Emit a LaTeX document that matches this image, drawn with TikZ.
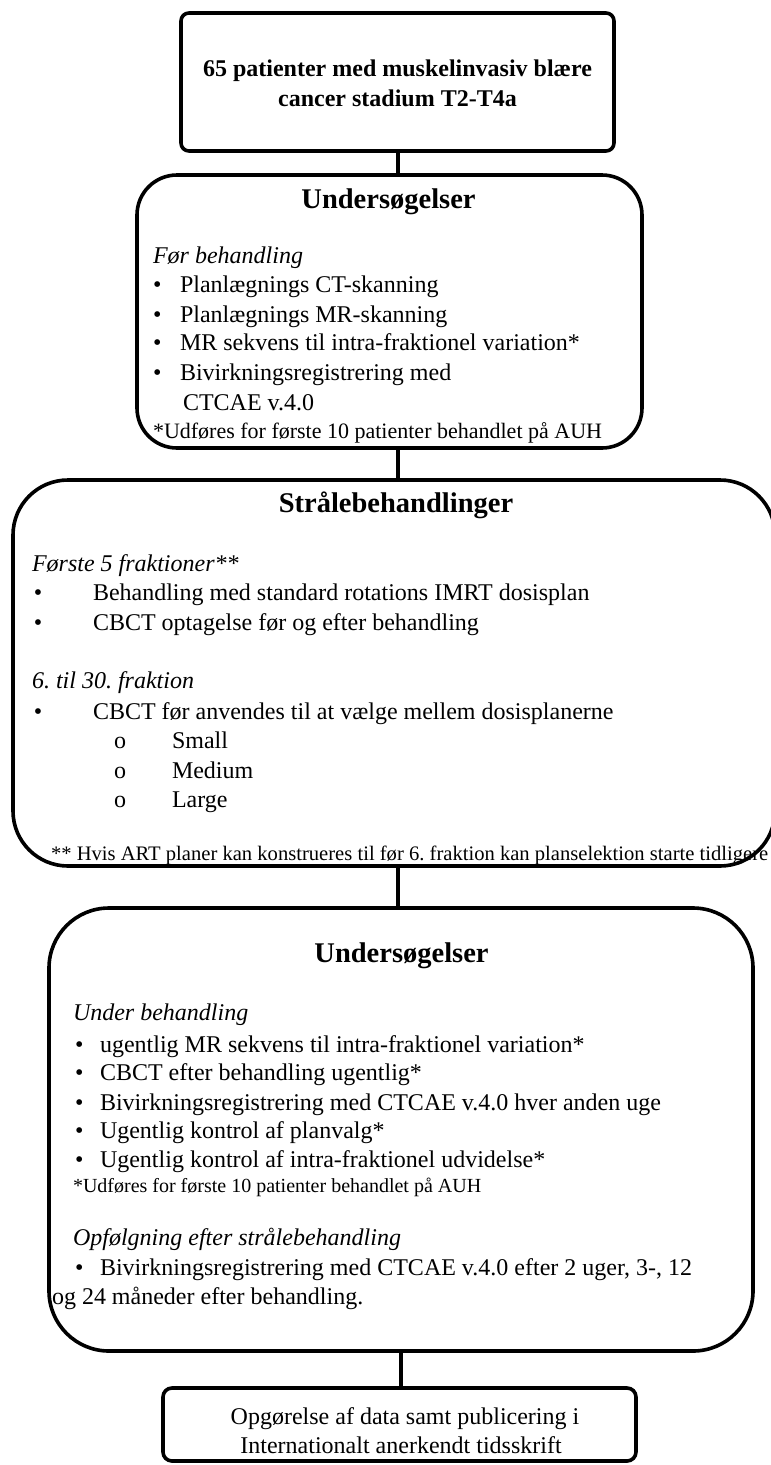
\documentclass[tikz,border=0pt]{standalone}
\usepackage{fontspec}
\setmainfont{Liberation Serif}[
  UprightFont={Liberation Serif},
  BoldFont={Liberation Serif Bold},
  ItalicFont={Liberation Serif Italic},
  BoldItalicFont={Liberation Serif Bold Italic}]
\frenchspacing
\begin{document}
\frenchspacing
\begin{tikzpicture}[x=1pt,y=-1pt,
  box/.style={draw=black, line width=3.6pt, inner sep=0pt, outer sep=0pt},
  conn/.style={draw=black, line width=4pt},
  tx/.style={anchor=base west, inner sep=0pt, outer sep=0pt, font=\fontsize{24}{29}\selectfont},
  txc/.style={anchor=base, inner sep=0pt, outer sep=0pt, font=\fontsize{24}{29}\selectfont},
  it/.style={tx, font=\fontsize{24}{29}\selectfont\itshape},
  hd/.style={anchor=base, inner sep=0pt, outer sep=0pt, font=\fontsize{28.5}{34}\selectfont\bfseries},
  bd/.style={anchor=base, inner sep=0pt, outer sep=0pt, font=\fontsize{24}{29}\selectfont\bfseries},
  fn/.style={anchor=base west, inner sep=0pt, outer sep=0pt, font=\fontsize{#1}{24}\selectfont}
]
\useasboundingbox (0,0) rectangle (771,1465);
\clip (0,0) rectangle (771,1465);

% boxes
\node[box, rounded corners=8pt, minimum width=433pt, minimum height=138pt] (b1) at (397.5,82) {};
\node[box, rounded corners=40pt, minimum width=505pt, minimum height=273pt] (b2) at (389.5,311.5) {};
\node[box, rounded corners=55pt, minimum width=762pt, minimum height=386pt] (b3) at (394,673) {};
\node[box, rounded corners=60pt, minimum width=704pt, minimum height=443pt] (b4) at (401,1129.5) {};
\node[box, rounded corners=9pt, minimum width=473pt, minimum height=73pt] (b5) at (399.5,1424.5) {};

% connectors
\draw[conn] (b1.south) -- (b1.south |- b2.north);
\draw[conn] (b2.south -| b1.south) -- (b3.north -| b1.south);
\draw[conn] (b3.south -| b1.south) -- (b4.north -| b1.south);
\draw[conn] (b4.south) -- (b4.south |- b5.north);

% box 1
\node[bd] (t1a) at (397.5,76) {65 patienter med muskelinvasiv blære};
\node[bd] (t1b) at (397.5,106) {cancer stadium T2-T4a};

% box 2
\node[hd] (h2) at (388.5,208) {Undersøgelser};
\node[it] (s2) at (153,263) {Før behandling};
\node[tx] (p2a) at (153,292) {•};
\node[tx] (q2a) at (180,292) {Planlægnings CT-skanning};
\node[tx] (p2b) at (153,322) {•};
\node[tx] (q2b) at (180,322) {Planlægnings MR-skanning};
\node[tx] (p2c) at (153,350) {•};
\node[tx] (q2c) at (180,350) {MR sekvens til intra-fraktionel variation*};
\node[tx] (p2d) at (153,380) {•};
\node[tx] (q2d) at (180,380) {Bivirkningsregistrering med};
\node[tx] (q2e) at (183,410) {CTCAE v.4.0};
\node[fn=22] (f2) at (153,438) {*Udføres for første 10 patienter behandlet på AUH};

% box 3
\node[hd] (h3) at (396,512) {Strålebehandlinger};
\node[it] (s3a) at (32,571) {Første 5 fraktioner**};
\node[tx] (p3a) at (34,600) {•};
\node[tx] (q3a) at (93,600) {Behandling med standard rotations IMRT dosisplan};
\node[tx] (p3b) at (34,630) {•};
\node[tx] (q3b) at (93,630) {CBCT optagelse før og efter behandling};
\node[it] (s3b) at (32,688) {6. til 30. fraktion};
\node[tx] (p3c) at (34,719) {•};
\node[tx] (q3c) at (93,719) {CBCT før anvendes til at vælge mellem dosisplanerne};
\node[tx] (o3a) at (114,748) {o};
\node[tx] (r3a) at (172,748) {Small};
\node[tx] (o3b) at (114,778) {o};
\node[tx] (r3b) at (172,778) {Medium};
\node[tx] (o3c) at (114,807) {o};
\node[tx] (r3c) at (172,807) {Large};
\node[fn=20.6] (f3) at (51,860) {** Hvis ART planer kan konstrueres til før 6. fraktion kan planselektion starte tidligere};

% box 4
\node[hd] (h4) at (401.5,962) {Undersøgelser};
\node[it] (s4a) at (73,1020) {Under behandling};
\node[tx] (p4a) at (75,1052) {•};
\node[tx] (q4a) at (100,1052) {ugentlig MR sekvens til intra-fraktionel variation*};
\node[tx] (p4b) at (75,1080) {•};
\node[tx] (q4b) at (100,1080) {CBCT efter behandling ugentlig*};
\node[tx] (p4c) at (75,1110) {•};
\node[tx] (q4c) at (100,1110) {Bivirkningsregistrering med CTCAE v.4.0 hver anden uge};
\node[tx] (p4d) at (75,1138) {•};
\node[tx] (q4d) at (100,1138) {Ugentlig kontrol af planvalg*};
\node[tx] (p4e) at (75,1167) {•};
\node[tx] (q4e) at (100,1167) {Ugentlig kontrol af intra-fraktionel udvidelse*};
\node[fn=20] (f4) at (73,1192) {*Udføres for første 10 patienter behandlet på AUH};
\node[it] (s4b) at (73,1245) {Opfølgning efter strålebehandling};
\node[tx] (p4f) at (75,1275) {•};
\node[tx] (q4f) at (100,1275) {Bivirkningsregistrering med CTCAE v.4.0 efter 2 uger, 3-, 12};
\node[tx] (q4g) at (52,1304) {og 24 måneder efter behandling.};

% box 5
\node[txc] (t5a) at (405,1424) {Opgørelse af data samt publicering i};
\node[txc] (t5b) at (401,1453) {Internationalt anerkendt tidsskrift};
\end{tikzpicture}
\end{document}
